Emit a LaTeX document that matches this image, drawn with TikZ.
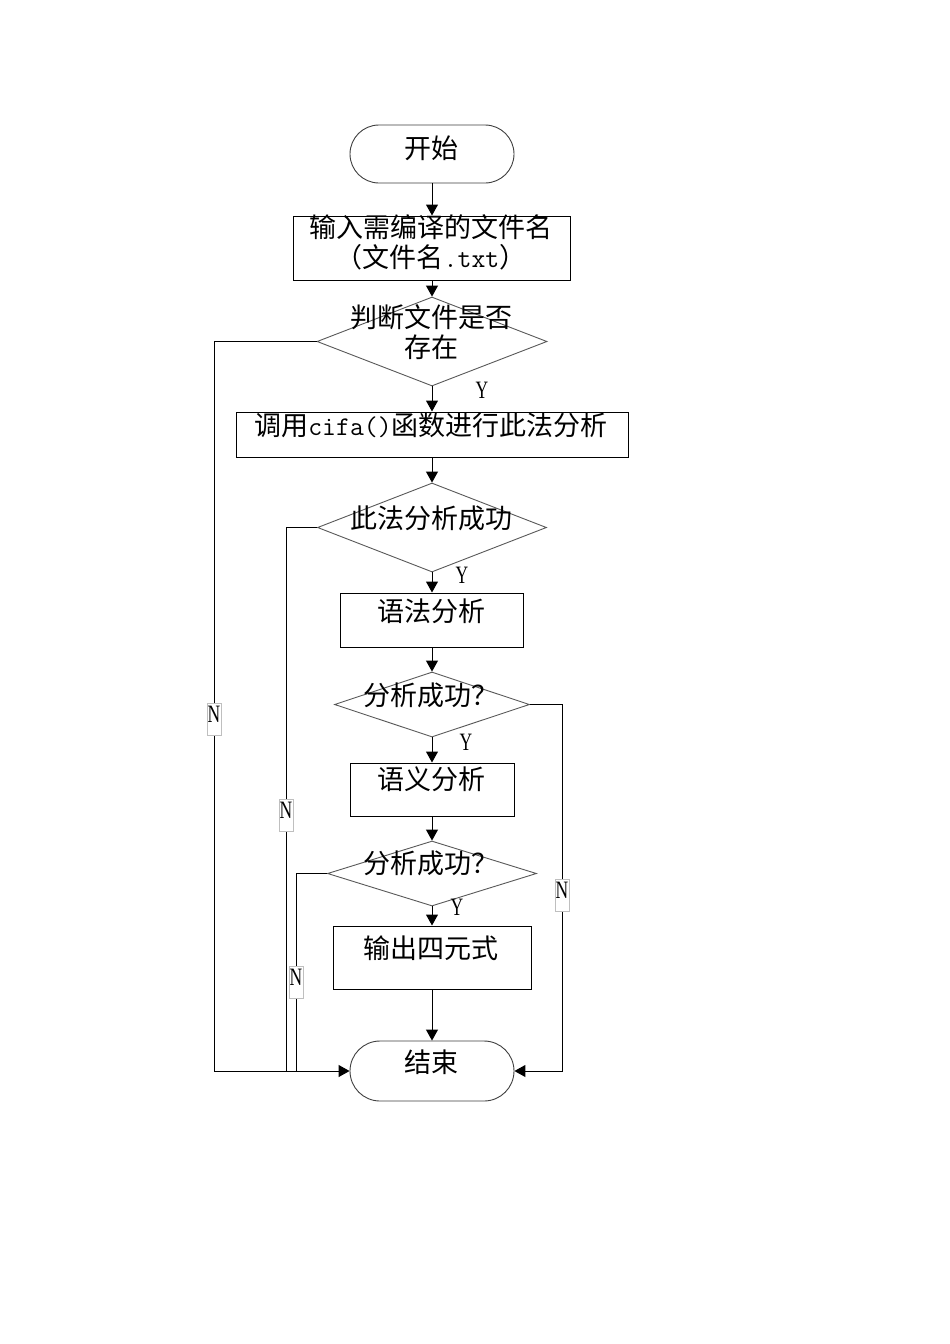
\documentclass[tikz,border=0pt]{standalone}
\usepackage{fontspec}
\newfontfamily\cjk{Noto Sans CJK SC}
\newfontfamily\lat{Liberation Serif}[FakeStretch=0.7]
\usetikzlibrary{shapes.geometric,arrows.meta}
\begin{document}
\begin{tikzpicture}[x=1pt,y=-1pt,
  term/.style={draw=black!75, line width=0.9pt, rounded corners=29pt, minimum width=164pt, minimum height=58pt, inner sep=0},
  proc/.style={draw=black, line width=1pt, inner sep=0},
  dec/.style={diamond, draw=black!65, line width=0.9pt, inner sep=0},
  arr/.style={-{Triangle[length=11pt,width=12pt]}, line width=1pt},
  link/.style={line width=1pt},
  txt/.style={font=\cjk\fontsize{27}{32}\selectfont, anchor=base, inner sep=0},
  ylab/.style={font=\lat\fontsize{25}{30}\selectfont, anchor=base, inner sep=0},
  nbox/.style={draw=black!25, fill=white, line width=0.8pt, inner sep=0, minimum width=14pt, text height=19pt, text depth=13pt, anchor=north, font=\lat\fontsize{25}{30}\selectfont}
]
\useasboundingbox (0,0) rectangle (950,1344);
\fill[white] (0,0) rectangle (950,1344);

% shapes
\node[term] (start) at (432,154) {};
\node[proc, minimum width=277pt, minimum height=64pt] (box1) at (432,248) {};
\node[dec, minimum width=230pt, minimum height=89pt] (d1) at (432,341.5) {};
\node[proc, minimum width=392pt, minimum height=45pt] (box2) at (432,434.5) {};
\node[dec, minimum width=229pt, minimum height=89pt] (d2) at (432,527.5) {};
\node[proc, minimum width=183pt, minimum height=54pt] (box3) at (432,620) {};
\node[dec, minimum width=195pt, minimum height=65pt] (d3) at (432,704.5) {};
\node[proc, minimum width=164pt, minimum height=53pt] (box4) at (432,789.5) {};
\node[dec, minimum width=209pt, minimum height=65pt] (d4) at (432,873.5) {};
\node[proc, minimum width=198pt, minimum height=63pt] (box5) at (432,957.5) {};
\node[term, minimum height=60pt, rounded corners=30pt] (end) at (432,1071) {};

% texts
\node[txt] (t0) at (431,158) {开始};
\node[txt] (t1a) at (431,237) {输入需编译的文件名};
\node[txt] (t1b) at (431,267) {（文件名{\ttfamily .txt}）};
\node[txt] (t2a) at (431,327) {判断文件是否};
\node[txt] (t2b) at (431,357) {存在};
\node[txt] (t3) at (431,435) {调用{\ttfamily cifa()}函数进行此法分析};
\node[txt] (t4) at (431,528) {此法分析成功};
\node[txt] (t5) at (431,621) {语法分析};
\node[txt] (t6) at (431,705) {分析成功？};
\node[txt] (t7) at (431,789) {语义分析};
\node[txt] (t8) at (431,873) {分析成功？};
\node[txt] (t9) at (431,958) {输出四元式};
\node[txt] (t10) at (431,1072) {结束};

% main flow
\draw[arr] (start) -- (box1);
\draw[arr] (box1) -- (d1);
\draw[arr] (d1) -- (box2);
\draw[arr] (box2) -- (d2);
\draw[arr] (d2) -- (box3);
\draw[arr] (box3) -- (d3);
\draw[arr] (d3) -- (box4);
\draw[arr] (box4) -- (d4);
\draw[arr] (d4) -- (box5);
\draw[arr] (box5) -- (end);

% Y labels
\node[ylab] (y1) at (482,398) {Y};
\node[ylab] (y2) at (462,583) {Y};
\node[ylab] (y3) at (466,750) {Y};
\node[ylab] (y4) at (457,915) {Y};

% side connectors
\coordinate (l1) at (214,1071);
\coordinate (l2) at (286,1071);
\coordinate (l4) at (296,1071);
\coordinate (r3) at (562,1071);
\draw[link] (d2.west) -| (l2);
\draw[link] (d4.west) -| (l4);
\draw[arr] (d1.west) -| (l1) -- (end.west);
\draw[arr] (d3.east) -| (r3) -- (end.east);

% N labels
\node[nbox] (n1) at (214,703) {N};
\node[nbox] (n2) at (286,799) {N};
\node[nbox] (n4) at (296,966) {N};
\node[nbox] (n3) at (562,879) {N};
\end{tikzpicture}
\end{document}
